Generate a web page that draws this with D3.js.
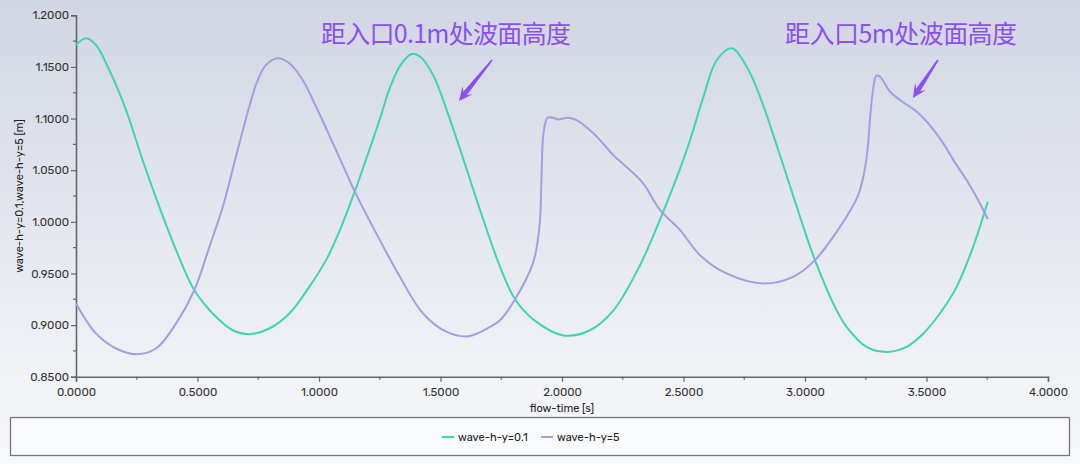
<!DOCTYPE html>
<html><head><meta charset="utf-8">
<script src="https://cdn.jsdelivr.net/npm/d3@7/dist/d3.min.js"></script>
<style>html,body{margin:0;padding:0;background:#fff;}svg{display:block;}</style>
</head><body>
<svg id="c" width="1080" height="464"></svg>
<script>
// ---- data ----
const greenTime = [0,0.041,0.082,0.137,0.206,0.274,0.343,0.412,0.487,0.576,0.645,0.713,0.796,0.878,0.96,1.029,1.086,1.148,1.196,1.251,1.292,1.336,1.382,1.416,1.47,1.526,1.595,1.663,1.745,1.807,1.884,2.006,2.115,2.211,2.321,2.41,2.486,2.527,2.582,2.637,2.699,2.76,2.815,2.89,2.966,3.041,3.13,3.171,3.253,3.336,3.418,3.487,3.555,3.624,3.692,3.752];
const greenValue = [1.1712,1.1777,1.1712,1.147,1.1082,1.0598,1.0145,0.9726,0.9338,0.908,0.895,0.8912,0.8967,0.9112,0.937,0.9629,0.992,1.030,1.062,1.100,1.130,1.152,1.1625,1.160,1.142,1.108,1.06,1.0113,0.9564,0.925,0.905,0.890,0.895,0.914,0.958,1.006,1.0515,1.0792,1.121,1.1567,1.168,1.1502,1.1211,1.0695,1.0146,0.9629,0.9144,0.8983,0.8789,0.874,0.8789,0.8919,0.9112,0.937,0.9758,1.0194];
const purpleTime = [0,0.082,0.165,0.247,0.329,0.412,0.487,0.549,0.604,0.658,0.713,0.748,0.782,0.83,0.878,0.933,0.988,1.07,1.148,1.251,1.333,1.429,1.526,1.615,1.704,1.745,1.807,1.882,1.907,1.917,1.923,1.94,1.962,1.985,2.026,2.06,2.129,2.211,2.232,2.294,2.335,2.405,2.486,2.568,2.677,2.828,2.951,3.041,3.144,3.216,3.243,3.257,3.278,3.294,3.309,3.35,3.391,3.46,3.501,3.569,3.61,3.665,3.72,3.752];
const purpleValue = [0.9209,0.8919,0.8773,0.8718,0.8773,0.9016,0.9338,0.9758,1.0145,1.063,1.1114,1.1373,1.1518,1.1583,1.1535,1.1373,1.1114,1.0695,1.029,0.982,0.9467,0.911,0.8934,0.8892,0.8982,0.9047,0.925,0.961,0.995,1.0533,1.084,1.1008,1.1008,1.0992,1.1008,1.0985,1.0857,1.0646,1.06,1.047,1.037,1.011,0.992,0.9677,0.95,0.9403,0.9467,0.9629,0.9951,1.0242,1.0469,1.0695,1.1244,1.1415,1.1405,1.126,1.118,1.1066,1.097,1.076,1.06,1.0404,1.0178,1.0026];
const seriesNames = ["wave-h-y=0.1","wave-h-y=5"];
const xTicks = [0,0.5,1,1.5,2,2.5,3,3.5,4];
const yTicks = [0.85,0.9,0.95,1.0,1.05,1.1,1.15,1.2];
const xTitle = "flow-time [s]";
const yTitle = "wave-h-y=0.1,wave-h-y=5 [m]";
const noteText = ["距入口0.1m处波面高度","距入口5m处波面高度"];
const noteAt = [[1.008,1.1731],[2.918,1.1731]];
const arrowFrom = [[1.712,1.1567],[3.547,1.1567]];
const arrowTo = [[1.576,1.117],[3.444,1.1198]];

// ---- layout ----
const W=1080,H=464;
const L=76,R=1048,T=15.3,B=376.7;
const colors=["#3dd6ae","#a59de0"];
const svg=d3.select("#c");
const defs=svg.append("defs");
const g=defs.append("linearGradient").attr("id","bg").attr("x1",0).attr("y1",0).attr("x2",0).attr("y2",1);
g.append("stop").attr("offset","0%").attr("stop-color","#d1d6e3");
g.append("stop").attr("offset","100%").attr("stop-color","#f8f9fb");
svg.append("rect").attr("width",W).attr("height",H).attr("fill","url(#bg)");

const x=d3.scaleLinear().domain([0,4]).range([L,R]);
const y=d3.scaleLinear().domain([0.85,1.2]).range([B,T]);

const font="Rubik, Inter, Roboto, sans-serif";
// axes
const xAxis=d3.axisBottom(x).tickValues(xTicks).tickFormat(d3.format(".4f")).tickSize(5).tickPadding(4);
const yAxis=d3.axisLeft(y).tickValues(yTicks).tickFormat(d3.format(".4f")).tickSize(5).tickPadding(2);
const minorX=d3.range(0.25,4,0.5), minorY=d3.range(0.875,1.2,0.05);
const gx=svg.append("g").attr("transform",`translate(0,${B})`).call(xAxis);
const gy=svg.append("g").attr("transform",`translate(${L},0)`).call(yAxis);
gx.append("g").selectAll("line").data(minorX).join("line").attr("x1",d=>x(d)).attr("x2",d=>x(d)).attr("y1",0).attr("y2",3);
gy.append("g").selectAll("line").data(minorY).join("line").attr("y1",d=>y(d)).attr("y2",d=>y(d)).attr("x1",0).attr("x2",-3);
[gx,gy].forEach(a=>{
  a.select(".domain").attr("stroke","#666").attr("stroke-width",1.6);
  a.selectAll("line").attr("stroke","#666").attr("stroke-width",1.2);
  a.selectAll("text").attr("fill","#333").style("font-family",font).style("font-size","11.5px");
});
gx.selectAll(".tick text").attr("dy","0.9em");

svg.append("text").attr("x",(L+R)/2).attr("y",412).attr("text-anchor","middle")
  .style("font-family",font).style("font-size","11px").attr("fill","#222").text(xTitle);
svg.append("text").attr("transform",`translate(23,${(T+B)/2}) rotate(-90)`).attr("text-anchor","middle")
  .style("font-family",font).style("font-size","11px").attr("fill","#222").text(yTitle);

// lines
const line=d3.line().x(d=>x(d[0])).y(d=>y(d[1])).curve(d3.curveCatmullRom.alpha(0.5));
const data=[d3.zip(greenTime,greenValue), d3.zip(purpleTime,purpleValue)];
data.forEach((d,i)=>{
  svg.append("path").datum(d).attr("d",line).attr("fill","none").attr("stroke",colors[i]).attr("stroke-width",2).attr("stroke-linejoin","round");
});

// legend
svg.append("rect").attr("x",10.5).attr("y",417.5).attr("width",1059).attr("height",38)
  .attr("fill","#f9fafc").attr("stroke","#777").attr("stroke-width",1.3);
const leg=svg.append("g");
const legX=[442,541];
seriesNames.forEach((n,i)=>{
  leg.append("line").attr("x1",legX[i]).attr("x2",legX[i]+12).attr("y1",437).attr("y2",437).attr("stroke",colors[i]).attr("stroke-width",2);
  leg.append("text").attr("x",legX[i]+16).attr("y",441).style("font-family",font).style("font-size","11px").attr("fill","#222").text(n);
});

// annotations
const noteColor="#8b4ff2";
noteText.forEach((t,i)=>{
  svg.append("text").attr("x",x(noteAt[i][0])).attr("y",y(noteAt[i][1]))
    .style("font-family","'Noto Sans CJK SC', sans-serif").style("font-size","25px")
    .attr("fill",noteColor).attr("textLength",i===0?250:232).attr("lengthAdjust","spacing").text(t);
  const x0=x(arrowFrom[i][0]),y0=y(arrowFrom[i][1]),x1=x(arrowTo[i][0]),y1=y(arrowTo[i][1]);
  const dx=x1-x0,dy=y1-y0,len=Math.hypot(dx,dy),ux=dx/len,uy=dy/len,px=-uy,py=ux;
  const hl=14,hw=6.5,sw0=0.8,sw1=2.4;
  const bx=x1-ux*hl,by=y1-uy*hl;
  const nx=x1-ux*(hl*0.7),ny=y1-uy*(hl*0.7);
  const pts=[[x0+px*sw0,y0+py*sw0],[nx+px*sw1,ny+py*sw1],[bx+px*hw,by+py*hw],[x1,y1],[bx-px*hw,by-py*hw],[nx-px*sw1,ny-py*sw1],[x0-px*sw0,y0-py*sw0]];
  svg.append("path").attr("d","M"+pts.map(p=>p.join(",")).join("L")+"Z").attr("fill",noteColor);
});
</script>
</body></html>
